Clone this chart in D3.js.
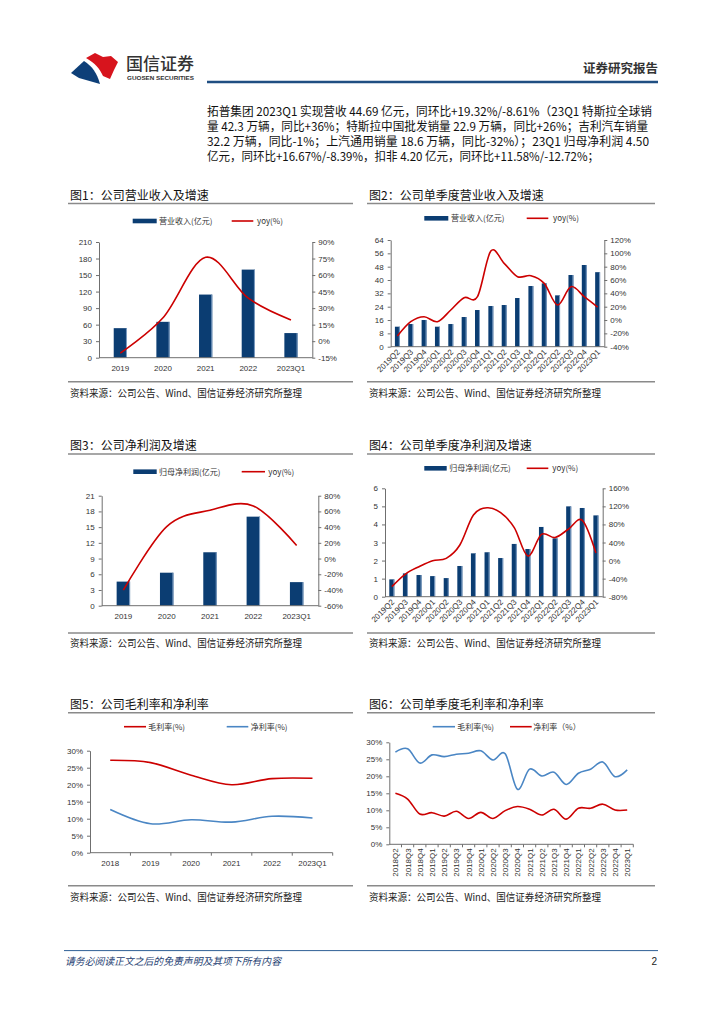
<!DOCTYPE html>
<html><head><meta charset="utf-8">
<script src="https://cdn.jsdelivr.net/npm/d3@7/dist/d3.min.js"></script>
<style>
body{margin:0;background:#fff;}
svg{display:block;}
</style></head><body>
<script>
// ---------------- DATA ----------------
const paragraphLines = [
  "拓普集团 2023Q1 实现营收 44.69 亿元，同环比+19.32%/-8.61%（23Q1 特斯拉全球销",
  "量 42.3 万辆，同比+36%；特斯拉中国批发销量 22.9 万辆，同比+26%；吉利汽车销量",
  "32.2 万辆，同比-1%；上汽通用销量 18.6 万辆，同比-32%）；23Q1 归母净利润 4.50",
  "亿元，同环比+16.67%/-8.39%，扣非 4.20 亿元，同环比+11.58%/-12.72%；"
];
const chartTitles = ["图1：公司营业收入及增速","图2：公司单季度营业收入及增速","图3：公司净利润及增速",
  "图4：公司单季度净利润及增速","图5：公司毛利率和净利率","图6：公司单季度毛利率和净利率"];
const sourceNote = "资料来源：公司公告、Wind、国信证券经济研究所整理";

const years = ["2019","2020","2021","2022","2023Q1"];
const revenueAnnual = [53.6, 65.1, 114.6, 159.9, 44.7];
const revenueAnnualYoy = [-10.9, 21.2, 76.1, 39.0, 19.3];
const revenueAnnualTicks = [0,30,60,90,120,150,180,210];
const revenueAnnualYoyTicks = [-15,0,15,30,45,60,75,90];

const quarters16 = ["2019Q2","2019Q3","2019Q4","2020Q1","2020Q2","2020Q3","2020Q4","2021Q1",
  "2021Q2","2021Q3","2021Q4","2022Q1","2022Q2","2022Q3","2022Q4","2023Q1"];
const revenueQ = [12.0, 13.6, 16.0, 12.0, 13.6, 17.8, 22.0, 24.4, 25.0, 29.2, 36.4, 38.0, 30.8, 43.0, 49.0, 44.7];
const revenueQYoy = [-24, -2.5, 5, -2.5, 15, 33.5, 35, 103.5, 85, 65, 66.5, 55, 22.5, 50, 35, 19.3];
const revenueQTicks = [0,8,16,24,32,40,48,56,64];
const revenueQYoyTicks = [-40,-20,0,20,40,60,80,100,120];

const profitAnnual = [4.6, 6.3, 10.2, 17.0, 4.5];
const profitAnnualYoy = [-40.1, 40.6, 61.5, 67.0, 16.7];
const profitAnnualTicks = [0,3,6,9,12,15,18,21];
const profitAnnualYoyTicks = [-60,-40,-20,0,20,40,60,80];

const profitQ = [0.96, 1.29, 1.20, 1.14, 1.03, 1.70, 2.40, 2.46, 2.14, 2.92, 2.64, 3.86, 3.23, 5.00, 4.91, 4.50];
const profitQYoy = [-57.8, -29.8, -13.5, -0.2, 4.9, 34.5, 101, 117, 106, 73, 10, 58, 51, 70, 89, 16.7];
const profitQTicks = [0,1,2,3,4,5,6];
const profitQYoyTicks = [-80,-40,0,40,80,120,160];

const years6 = ["2018","2019","2020","2021","2022","2023Q1"];
const grossMarginAnnual = [27.2, 26.5, 22.8, 20.0, 21.8, 21.9];
const netMarginAnnual = [12.7, 8.5, 9.7, 9.0, 10.7, 10.2];
const marginTicks = [0,5,10,15,20,25,30];

const quarters20 = ["2018Q2","2018Q3","2018Q4","2019Q1","2019Q2","2019Q3","2019Q4","2020Q1","2020Q2","2020Q3",
  "2020Q4","2021Q1","2021Q2","2021Q3","2021Q4","2022Q1","2022Q2","2022Q3","2022Q4","2023Q1"];
const grossMarginQ = [27.1, 28.1, 23.9, 26.3, 25.8, 26.5, 26.8, 27.5, 24.8, 26.6, 16.2, 22.1, 20.1, 21.2, 17.6, 20.9, 22.1, 24.2, 19.9, 21.9];
const netMarginQ = [15.0, 13.3, 8.9, 9.3, 8.3, 9.7, 7.6, 9.4, 7.6, 9.9, 11.1, 10.3, 8.6, 10.3, 7.4, 10.6, 10.6, 11.8, 10.1, 10.1];

// ---------------- STYLE ----------------
const CJK = '"Noto Sans CJK SC","Liberation Sans",sans-serif';
const NUM = '"Liberation Sans","Noto Sans CJK SC",Arial,sans-serif';
const NAVY = "#0b3d72", RED = "#cc0000", BLUE = "#4a86c4", AX = "#6f6f6f", TXT = "#222";

const svg = d3.select("body").append("svg").attr("width",724).attr("height",1024);
svg.append("rect").attr("width",724).attr("height",1024).attr("fill","#fff");

// ---------------- HEADER ----------------
svg.append("path").attr("d","M86,58 L95,53 L103,57 L111,56 L118,62 L114,70 L110,79 L103,76 C100,69 95,63 86,58 Z").attr("fill","#d7141d");
svg.append("path").attr("d","M71,73 L84,61 C92,66 97,73 100,84 L93,82 L86,80 L79,78 Z").attr("fill","#0d3f78");
svg.append("text").attr("x",126).attr("y",70).attr("font-family",CJK).attr("font-size",16.5).attr("font-weight",500)
  .attr("fill","#333").attr("textLength",68).attr("lengthAdjust","spacingAndGlyphs").text("国信证券");
svg.append("text").attr("x",127).attr("y",80).attr("font-family",NUM).attr("font-size",6.2).attr("font-weight",700)
  .attr("fill","#333").attr("textLength",67).attr("lengthAdjust","spacingAndGlyphs").text("GUOSEN SECURITIES");
svg.append("text").attr("x",658).attr("y",73).attr("text-anchor","end").attr("font-family",CJK).attr("font-size",12.5)
  .attr("font-weight",700).attr("fill","#333").text("证券研究报告");
svg.append("line").attr("x1",207).attr("x2",658).attr("y1",82).attr("y2",82).attr("stroke","#1f4e82").attr("stroke-width",2.5);

// ---------------- PARAGRAPH ----------------
const paraLens = [445, 441, 442, 392];
svg.selectAll("text.para").data(paragraphLines).join("text").attr("class","para")
  .attr("x",207).attr("y",(d,i)=>115.5+i*15).attr("font-family",CJK).attr("font-size",12).attr("fill","#111")
  .attr("textLength",(d,i)=>paraLens[i]).attr("lengthAdjust","spacingAndGlyphs").text(d=>d);

// ---------------- FRAMES ----------------
const cols = [{x:68,w:285,tx:70},{x:367,w:288,tx:369}];
const rows = [{t:195,l:203.5,fl:381.7,f:393},{t:445,l:454,fl:633,f:643},{t:704,l:712.7,fl:885.7,f:897}];
chartTitles.forEach((t,i)=>{
  const c = cols[i%2], r = rows[Math.floor(i/2)];
  svg.append("text").attr("x",c.tx).attr("y",r.t+4.5).attr("font-family",CJK).attr("font-size",12).attr("font-weight",400)
    .attr("fill","#111").text(t);
  svg.append("line").attr("x1",c.x).attr("x2",c.x+c.w).attr("y1",r.l).attr("y2",r.l).attr("stroke","#8a8a8a").attr("stroke-width",1.6);
  svg.append("line").attr("x1",c.x).attr("x2",c.x+c.w).attr("y1",r.fl).attr("y2",r.fl).attr("stroke","#8a8a8a").attr("stroke-width",1.6);
  svg.append("text").attr("x",c.tx).attr("y",r.f+3.6).attr("font-family",CJK).attr("font-size",10)
    .attr("fill",TXT).attr("textLength",232).attr("lengthAdjust","spacingAndGlyphs").text(sourceNote);
});

// ---------------- HELPERS ----------------
function styleAxis(sel){
  sel.select(".domain").attr("stroke",AX);
  sel.selectAll(".tick line").attr("stroke",AX);
  sel.selectAll(".tick text").attr("font-family",NUM).attr("font-size",8).attr("fill","#333");
}
function legendBar(g,x1,x2,y,tx,label){
  g.append("rect").attr("x",x1).attr("y",y-2.3).attr("width",x2-x1).attr("height",4.6).attr("fill",NAVY);
  g.append("text").attr("x",tx).attr("y",y+3).attr("font-family",CJK).attr("font-size",8).attr("fill","#333").text(label);
}
function legendLine(g,x1,x2,y,tx,label,color){
  g.append("line").attr("x1",x1).attr("x2",x2).attr("y1",y).attr("y2",y).attr("stroke",color).attr("stroke-width",1.6);
  g.append("text").attr("x",tx).attr("y",y+3).attr("font-family",CJK).attr("font-size",8).attr("fill","#333").text(label);
}
function xLabels(g,x,cats,bottom,rot){
  const c = d=>x(d)+x.bandwidth()/2;
  const t = g.selectAll("text.xl").data(cats).join("text").attr("class","xl")
    .attr("font-family",NUM).attr("font-size",8).attr("fill","#333").text(d=>d);
  if(rot===0) t.attr("x",c).attr("y",bottom+13).attr("text-anchor","middle");
  else if(rot===45) t.attr("text-anchor","end").attr("transform",d=>`translate(${c(d)+3},${bottom+6}) rotate(-45)`);
  else t.attr("text-anchor","end").attr("transform",d=>`translate(${c(d)+3},${bottom+4}) rotate(-90)`);
}

function barLine(o){
  const g = svg.append("g");
  const x = d3.scaleBand().domain(o.cats).range([o.left,o.right]).paddingInner(o.pad).paddingOuter(o.pad/2);
  const yL = d3.scaleLinear().domain(d3.extent(o.lTicks)).range([o.bottom,o.top]);
  const yR = d3.scaleLinear().domain(d3.extent(o.rTicks)).range([o.bottom,o.top]);
  g.selectAll("rect.bar").data(o.bars).join("rect").attr("class","bar")
    .attr("x",(d,i)=>x(o.cats[i])).attr("width",x.bandwidth())
    .attr("y",d=>yL(d)).attr("height",d=>o.bottom-yL(d)).attr("fill",NAVY);
  g.selectAll("rect.hl").data(o.bars).join("rect").attr("class","hl")
    .attr("x",(d,i)=>x(o.cats[i])+x.bandwidth()-1).attr("width",1)
    .attr("y",d=>yL(d)).attr("height",d=>o.bottom-yL(d)).attr("fill","#7f9fc4");
  g.append("g").attr("transform",`translate(${o.left},0)`)
    .call(d3.axisLeft(yL).tickValues(o.lTicks).tickSize(3).tickSizeOuter(0).tickPadding(4).tickFormat(d=>String(d))).call(styleAxis);
  g.append("g").attr("transform",`translate(${o.right},0)`)
    .call(d3.axisRight(yR).tickValues(o.rTicks).tickSize(3).tickSizeOuter(0).tickPadding(3).tickFormat(d=>d+"%")).call(styleAxis);
  g.append("line").attr("x1",o.left).attr("x2",o.right).attr("y1",o.bottom).attr("y2",o.bottom).attr("stroke",AX);
  xLabels(g,x,o.cats,o.bottom,o.rot);
  const line = d3.line().x((d,i)=>x(o.cats[i])+x.bandwidth()/2).y(d=>yR(d)).curve(d3.curveCardinal.tension(0));
  g.append("path").datum(o.yoy).attr("d",line).attr("fill","none").attr("stroke",RED).attr("stroke-width",1.6);
  const L = o.leg;
  legendBar(g,L.b1,L.b2,L.y,L.t1,o.barLabel);
  legendLine(g,L.l1,L.l2,L.y,L.t2,"yoy(%)",RED);
}

function lineChart(o){
  const g = svg.append("g");
  const x = d3.scaleBand().domain(o.cats).range([o.left,o.right]).padding(0);
  const y = d3.scaleLinear().domain(d3.extent(marginTicks)).range([o.bottom,o.top]);
  g.append("g").attr("transform",`translate(${o.left},0)`)
    .call(d3.axisLeft(y).tickValues(marginTicks).tickSize(3).tickSizeOuter(0).tickPadding(4).tickFormat(d=>d+"%")).call(styleAxis);
  g.append("line").attr("x1",o.left).attr("x2",o.right).attr("y1",o.bottom).attr("y2",o.bottom).attr("stroke",AX);
  g.selectAll("line.xt").data(o.cats).join("line").attr("class","xt")
    .attr("x1",d=>x(d)+x.bandwidth()).attr("x2",d=>x(d)+x.bandwidth())
    .attr("y1",o.bottom).attr("y2",o.bottom+3).attr("stroke",AX);
  xLabels(g,x,o.cats,o.bottom,o.rot);
  const line = d3.line().x((d,i)=>x(o.cats[i])+x.bandwidth()/2).y(d=>y(d)).curve(d3.curveCardinal.tension(0));
  o.series.forEach(s=>{
    g.append("path").datum(s.values).attr("d",line).attr("fill","none").attr("stroke",s.color).attr("stroke-width",1.6);
    legendLine(g,s.l1,s.l2,o.legY,s.t,s.label,s.color);
  });
}

// ---------------- CHARTS ----------------
barLine({cats:years,bars:revenueAnnual,yoy:revenueAnnualYoy,lTicks:revenueAnnualTicks,rTicks:revenueAnnualYoyTicks,
  left:99,right:312.3,top:242,bottom:357.7,pad:0.69,rot:0,barLabel:"营业收入(亿元)",
  leg:{y:221,b1:132.7,b2:156.7,t1:159,l1:231.7,l2:253.3,t2:257}});

barLine({cats:quarters16,bars:revenueQ,yoy:revenueQYoy,lTicks:revenueQTicks,rTicks:revenueQYoyTicks,
  left:390.7,right:604.3,top:240,bottom:346.7,pad:0.63,rot:45,barLabel:"营业收入(亿元)",
  leg:{y:218.3,b1:424.3,b2:448.3,t1:451,l1:526.7,l2:548.3,t2:553}});

barLine({cats:years,bars:profitAnnual,yoy:profitAnnualYoy,lTicks:profitAnnualTicks,rTicks:profitAnnualYoyTicks,
  left:101.7,right:318.3,top:495.7,bottom:605.7,pad:0.69,rot:0,barLabel:"归母净利润(亿元)",
  leg:{y:471.7,b1:133.3,b2:156.7,t1:159,l1:241.7,l2:265,t2:268.3}});

barLine({cats:quarters16,bars:profitQ,yoy:profitQYoy,lTicks:profitQTicks,rTicks:profitQYoyTicks,
  left:385,right:602.7,top:488.3,bottom:596.7,pad:0.63,rot:45,barLabel:"归母净利润(亿元)",
  leg:{y:468.3,b1:424.3,b2:446.7,t1:449.3,l1:526.7,l2:548.3,t2:552.3}});

lineChart({cats:years6,left:90,right:332.7,top:750.7,bottom:852.7,rot:0,legY:726.7,
  series:[{values:grossMarginAnnual,color:RED,label:"毛利率(%)",l1:124,l2:146,t:148.3},
          {values:netMarginAnnual,color:BLUE,label:"净利率(%)",l1:226.7,l2:248.3,t:250.7}]});

lineChart({cats:quarters20,left:389.3,right:633.3,top:742.3,bottom:844.3,rot:90,legY:726.7,
  series:[{values:grossMarginQ,color:BLUE,label:"毛利率(%)",l1:432.7,l2:455,t:457.3},
          {values:netMarginQ,color:RED,label:"净利率（%）",l1:510,l2:531.7,t:533.3}]});

// ---------------- FOOTER ----------------
svg.append("line").attr("x1",64).attr("x2",658).attr("y1",950.6).attr("y2",950.6).attr("stroke","#2f5f95").attr("stroke-width",1);
svg.append("text").attr("x",65).attr("y",964.5).attr("font-family",CJK).attr("font-size",10).attr("font-style","italic")
  .attr("fill","#1f3f73").attr("textLength",216).attr("lengthAdjust","spacingAndGlyphs").text("请务必阅读正文之后的免责声明及其项下所有内容");
svg.append("text").attr("x",657).attr("y",964.5).attr("text-anchor","end").attr("font-family",NUM).attr("font-size",10)
  .attr("fill","#222").text("2");
</script>
</body></html>
